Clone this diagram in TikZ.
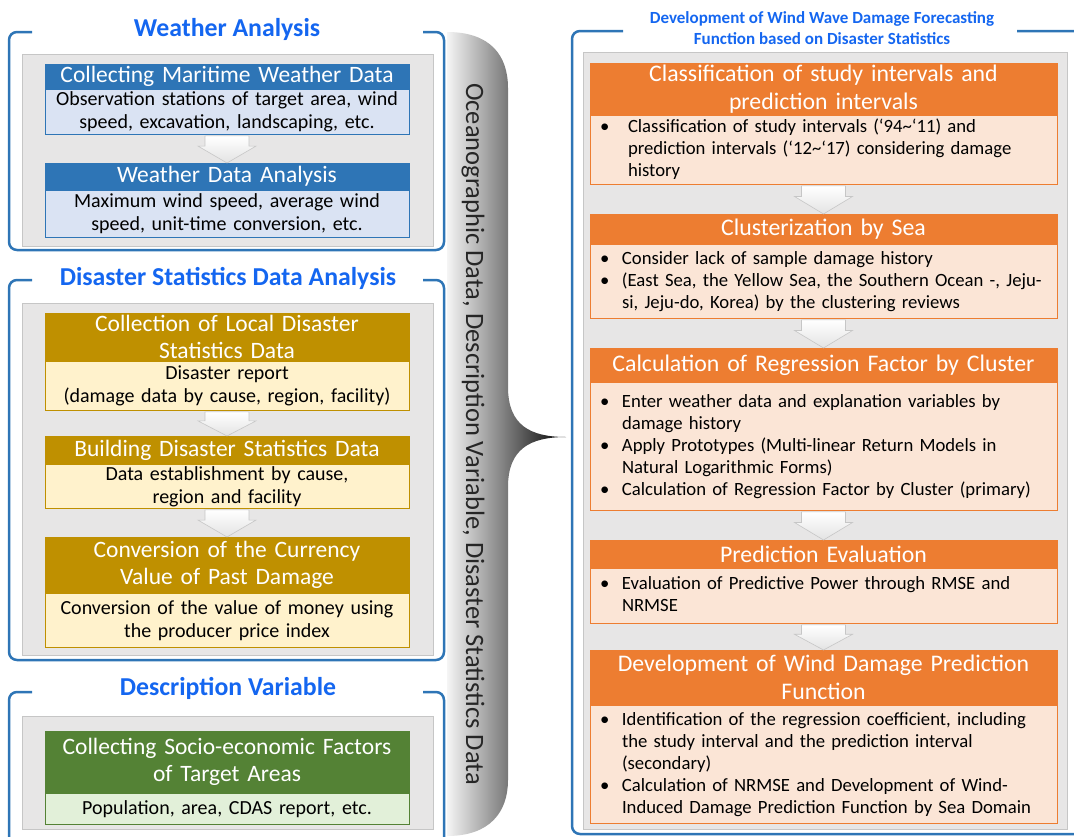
\documentclass[tikz,border=0pt]{standalone}
\usepackage{fontspec}
\setmainfont{Carlito}
\usepackage{tikz}
\usetikzlibrary{positioning,calc}
\definecolor{frameblue}{HTML}{2E75B6}
\definecolor{titleblue}{HTML}{1466F0}
\definecolor{panelgray}{HTML}{E7E6E6}
\definecolor{hblue}{HTML}{2E75B6}
\definecolor{bblue}{HTML}{DAE3F3}
\definecolor{hgold}{HTML}{BF9000}
\definecolor{bgold}{HTML}{FFF2CC}
\definecolor{hgreen}{HTML}{548235}
\definecolor{bgreen}{HTML}{E2F0D9}
\definecolor{horange}{HTML}{ED7D31}
\definecolor{borange}{HTML}{FBE5D6}

\begin{document}
\begin{tikzpicture}[x=1pt,y=-1pt,
  frame/.style={draw=frameblue,line width=2.5pt,rounded corners=8pt},
  panel/.style={draw=gray!45,fill=panelgray,line width=1pt},
  ttl/.style={text=titleblue,font=\fontsize{25.8}{28}\selectfont\bfseries},
  lhdr/.style={anchor=north,inner sep=0pt,text width=364pt,align=center,text=white,font=\fontsize{23.5}{27}\selectfont},
  lbdy/.style={inner sep=0pt,text width=364pt,align=center,font=\fontsize{20}{23}\selectfont},
  rhdr/.style={anchor=north,inner sep=0pt,text width=467pt,align=center,text=white,font=\fontsize{23.8}{28}\selectfont},
  rbdy/.style={inner xsep=10pt,inner ysep=0pt,text width=447pt,align=left,font=\fontsize{18.7}{22}\selectfont},
  blueh/.style={fill=hblue,draw=hblue},
  blueb/.style={fill=bblue,draw=hblue},
  goldh/.style={fill=hgold,draw=hgold},
  goldb/.style={fill=bgold,draw=hgold},
  greenh/.style={fill=hgreen,draw=hgreen},
  greenb/.style={fill=bgreen,draw=hgreen},
  orangeh/.style={fill=horange,draw=horange},
  orangeb/.style={fill=borange,draw=horange},
  blkarrow/.style={top color=white,bottom color=gray!22,draw=gray!45,line width=0.6pt}]
\useasboundingbox (0,0) rectangle (1074,836);

% frames and titles
\draw[frame] (32,32) -- (9,32) -- (9,250) -- (444,250) -- (444,32) -- (423,32);
\draw[frame] (32,280) -- (9,280) -- (9,660) -- (444,660) -- (444,280) -- (423,280);
\draw[frame] (32,692) -- (9,692) -- (9,860) -- (444,860) -- (444,692) -- (423,692);
\draw[frame] (623,31) -- (572,31) -- (572,834) -- (1090,834) -- (1090,31) -- (1017,31);
\node[ttl] (wttl) at (227,29) {Weather Analysis};
\node[ttl] (dttl) at (228,278) {Disaster Statistics Data Analysis};
\node[ttl] (vttl) at (228,688) {Description Variable};
\node[ttl,font=\fontsize{17}{21}\selectfont\bfseries,align=center] (rttl) at (822,28)
  {Development of Wind Wave Damage Forecasting\\Function based on Disaster Statistics};

% gray panels
\draw[panel] (22,54) rectangle (433,246);
\draw[panel] (22,303) rectangle (433,655);
\draw[panel] (22,716) rectangle (433,829);
\draw[panel] (583,52) rectangle (1067,829);

% brace
\path[left color=gray!8,right color=black]
  (447,32) .. controls (490,32) and (508,55) .. (508,88) -- (508,387)
  .. controls (508,425) and (530,437) .. (566,437)
  .. controls (530,437) and (508,449) .. (508,487) -- (508,780)
  .. controls (508,812) and (490,836) .. (447,836) -- cycle;
\node[rotate=-90,font=\fontsize{26.5}{28}\selectfont,text=black!85] (flow) at (473,434)
  {Oceanographic Data, Description Variable, Disaster Statistics Data};

% weather analysis
\node[lhdr,blueh,minimum height=25pt] (w1h) at (227,64) {Collecting Maritime Weather Data};
\node[lbdy,blueb,minimum height=45pt,below=0pt of w1h] (w1b) {Observation stations of target area, wind\\speed, excavation, landscaping, etc.};
\node[lhdr,blueh,minimum height=27pt] (w2h) at (227,163) {Weather Data Analysis};
\node[lbdy,blueb,minimum height=47pt,below=0pt of w2h] (w2b) {Maximum wind speed, average wind\\speed, unit-time conversion, etc.};

% disaster statistics
\node[lhdr,goldh,minimum height=48pt] (d1h) at (227,313) {Collection of Local Disaster\\Statistics Data};
\node[lbdy,goldb,minimum height=49pt,below=0pt of d1h] (d1b) {Disaster report\\(damage data by cause, region, facility)};
\node[lhdr,goldh,minimum height=28pt] (d2h) at (227,436) {Building Disaster Statistics Data};
\node[lbdy,goldb,minimum height=44pt,below=0pt of d2h] (d2b) {Data establishment by cause,\\region and facility};
\node[lhdr,goldh,minimum height=56pt] (d3h) at (227,537) {Conversion of the Currency\\Value of Past Damage};
\node[lbdy,goldb,minimum height=54pt,below=0pt of d3h] (d3b) {Conversion of the value of money using\\the producer price index};

% description variable
\node[lhdr,greenh,minimum height=62pt] (v1h) at (227,731) {Collecting Socio-economic Factors\\of Target Areas};
\node[lbdy,greenb,minimum height=31pt,below=0pt of v1h] (v1b) {Population, area, CDAS report, etc.};

% forecasting function
\node[rhdr,orangeh,minimum height=52pt] (r1h) at (823.5,63) {Classification of study intervals and\\prediction intervals};
\node[rbdy,orangeb,minimum height=69pt,below=0pt of r1h] (r1b) {\begin{tabular}{@{}p{28pt}@{}l@{}}
  \textbullet & Classification of study intervals (`94\textasciitilde`11) and\\
  & prediction intervals (`12\textasciitilde`17) considering damage\\
  & history
\end{tabular}};
\node[rhdr,orangeh,minimum height=30pt] (r2h) at (823.5,214) {Clusterization by Sea};
\node[rbdy,orangeb,minimum height=74pt,below=0pt of r2h] (r2b) {\begin{tabular}{@{}p{22pt}@{}l@{}}
  \textbullet & Consider lack of sample damage history\\
  \textbullet & (East Sea, the Yellow Sea, the Southern Ocean -, Jeju-\\
  & si, Jeju-do, Korea) by the clustering reviews
\end{tabular}};
\node[rhdr,orangeh,minimum height=34pt] (r3h) at (823.5,348) {Calculation of Regression Factor by Cluster};
\node[rbdy,orangeb,minimum height=128pt,below=0pt of r3h] (r3b) {\begin{tabular}{@{}p{22pt}@{}l@{}}
  \textbullet & Enter weather data and explanation variables by\\
  & damage history\\
  \textbullet & Apply Prototypes (Multi-linear Return Models in\\
  & Natural Logarithmic Forms)\\
  \textbullet & Calculation of Regression Factor by Cluster (primary)
\end{tabular}};
\node[rhdr,orangeh,minimum height=28pt] (r4h) at (823.5,540) {Prediction Evaluation};
\node[rbdy,orangeb,minimum height=55pt,below=0pt of r4h] (r4b) {\begin{tabular}{@{}p{22pt}@{}l@{}}
  \textbullet & Evaluation of Predictive Power through RMSE and\\
  & NRMSE
\end{tabular}};
\node[rhdr,orangeh,minimum height=55pt] (r5h) at (823.5,650) {Development of Wind Damage Prediction\\Function};
\node[rbdy,orangeb,minimum height=118pt,below=0pt of r5h] (r5b) {\begin{tabular}{@{}p{22pt}@{}l@{}}
  \textbullet & Identification of the regression coefficient, including\\
  & the study interval and the prediction interval\\
  & (secondary)\\
  \textbullet & Calculation of NRMSE and Development of Wind-\\
  & Induced Damage Prediction Function by Sea Domain
\end{tabular}};

% arrows between steps
\foreach \a/\b in {w1b/w2h,d1b/d2h,d2b/d3h,r1b/r2h,r2b/r3h,r3b/r4h,r4b/r5h}
  \path[blkarrow] ($(\a.south)+(-22,1)$) -- ($(\a.south)+(22,1)$)
    -- ($(\a.south)!0.4!(\b.north)+(22,0)$) -- ($(\a.south)!0.4!(\b.north)+(29,0)$)
    -- (\b.north) -- ($(\a.south)!0.4!(\b.north)+(-29,0)$)
    -- ($(\a.south)!0.4!(\b.north)+(-22,0)$) -- cycle;
\end{tikzpicture}
\end{document}
